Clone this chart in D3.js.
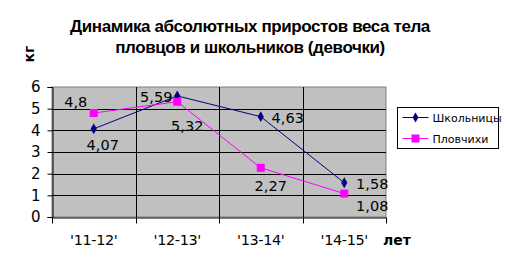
<!DOCTYPE html>
<html>
<head>
<meta charset="utf-8">
<script src="https://cdn.jsdelivr.net/npm/d3@7"></script>
<style>
  body { margin: 0; background: #fff; }
  text { font-family: "DejaVu Sans", sans-serif; fill: #000; }
  .title { font-family: "Liberation Sans", Arial, sans-serif; font-weight: bold; font-size: 17px; letter-spacing: -0.4px; }
</style>
</head>
<body>
<div id="vis"></div>
<script>
// chart values
const seasons = ["'11-12'", "'12-13'", "'13-14'", "'14-15'"];
const schoolgirls = [4.07, 5.59, 4.63, 1.58];
const swimmers = [4.8, 5.32, 2.27, 1.08];
const seriesNames = ["Школьницы", "Пловчихи"];
const yTicks = [0, 1, 2, 3, 4, 5, 6];

const WIDTH = 507, HEIGHT = 259;
const PLOT = {left: 52, right: 386, top: 87, bottom: 217};

const svg = d3.select("#vis")
  .append("svg")
    .attr("width", WIDTH)
    .attr("height", HEIGHT);

const x = d3.scaleBand().domain(seasons).range([PLOT.left, PLOT.right]);
const y = d3.scaleLinear().domain([0, 6]).range([PLOT.bottom, PLOT.top]);
const cx = (d) => x(d) + x.bandwidth() / 2;

// plot background
svg.append("rect")
  .attr("x", PLOT.left).attr("y", PLOT.top)
  .attr("width", PLOT.right - PLOT.left).attr("height", PLOT.bottom - PLOT.top)
  .attr("fill", "#c0c0c0").attr("stroke", "#808080");

// horizontal grid
svg.selectAll("hgrid").data(yTicks.slice(1, -1)).enter()
  .append("line")
    .attr("x1", PLOT.left).attr("x2", PLOT.right)
    .attr("y1", (d) => Math.round(y(d)) + 0.5).attr("y2", (d) => Math.round(y(d)) + 0.5)
    .attr("stroke", "#000");

// vertical grid at category edges
svg.selectAll("vgrid").data(seasons.slice(1)).enter()
  .append("line")
    .attr("x1", (d) => Math.round(x(d)) + 0.5).attr("x2", (d) => Math.round(x(d)) + 0.5)
    .attr("y1", PLOT.top).attr("y2", PLOT.bottom)
    .attr("stroke", "#000");

// axes
const yAxis = svg.append("g")
  .attr("transform", `translate(${PLOT.left + 0.5},0)`)
  .call(d3.axisLeft(y).tickValues(yTicks).tickFormat(d3.format("d")).tickSize(5).tickPadding(7));
yAxis.selectAll("text").style("font-size", "15px");

const xAxis = svg.append("g")
  .attr("transform", `translate(0,${PLOT.bottom + 0.5})`)
  .call(d3.axisBottom(x).tickSize(0).tickPadding(17));
xAxis.selectAll("text").style("font-size", "14.5px").attr("letter-spacing", "-0.4");
// ticks at band edges
xAxis.selectAll("edge").data(seasons.concat([null])).enter()
  .append("line")
    .attr("x1", (d) => (d === null ? PLOT.right : Math.round(x(d))) + 0.5)
    .attr("x2", (d) => (d === null ? PLOT.right : Math.round(x(d))) + 0.5)
    .attr("y1", 0).attr("y2", 6)
    .attr("stroke", "#000");
svg.selectAll(".domain").attr("stroke", "#000");

// lines
const line = d3.line().x((d, i) => cx(seasons[i])).y((d) => y(d));
svg.append("path").datum(schoolgirls)
  .attr("d", line).attr("fill", "none").attr("stroke", "#000080");
svg.append("path").datum(swimmers)
  .attr("d", line).attr("fill", "none").attr("stroke", "#ff00ff");

// markers
svg.selectAll("diamonds").data(schoolgirls).enter()
  .append("path")
    .attr("d", d3.symbol(d3.symbolDiamond, 34))
    .attr("transform", (d, i) => `translate(${cx(seasons[i])},${y(d)})`)
    .attr("fill", "#000080");
svg.selectAll("squares").data(swimmers).enter()
  .append("rect")
    .attr("x", (d, i) => cx(seasons[i]) - 4).attr("y", (d) => y(d) - 4)
    .attr("width", 8).attr("height", 8)
    .attr("fill", "#ff00ff");

// data labels: offsets relative to the point
const fmt = (v) => String(v).replace(".", ",");
const schoolOffsets = [[9, 21], [-21, 6], [27, 6], [28, 6]];
const swimOffsets = [[-18, -6], [10, 29], [10, 23], [28, 17]];
svg.selectAll("slabels").data(schoolgirls).enter()
  .append("text")
    .attr("x", (d, i) => cx(seasons[i]) + schoolOffsets[i][0])
    .attr("y", (d, i) => y(d) + schoolOffsets[i][1])
    .attr("text-anchor", "middle").style("font-size", "14.5px")
    .text(fmt);
svg.selectAll("wlabels").data(swimmers).enter()
  .append("text")
    .attr("x", (d, i) => cx(seasons[i]) + swimOffsets[i][0])
    .attr("y", (d, i) => y(d) + swimOffsets[i][1])
    .attr("text-anchor", "middle").style("font-size", "14.5px")
    .text(fmt);

// title and axis names
svg.append("text").attr("class", "title")
  .attr("x", 250).attr("y", 32).attr("text-anchor", "middle")
  .text("Динамика абсолютных приростов веса тела");
svg.append("text").attr("class", "title")
  .attr("x", 250).attr("y", 53).attr("text-anchor", "middle")
  .text("пловцов и школьников (девочки)");
svg.append("text")
  .attr("transform", "translate(34,54) rotate(-90)")
  .attr("text-anchor", "middle")
  .style("font-size", "14px").style("font-weight", "bold")
  .text("кг");
svg.append("text")
  .attr("x", 383).attr("y", 245)
  .style("font-size", "14px").style("font-weight", "bold")
  .text("лет");

// legend
const legend = svg.append("g").attr("transform", "translate(397.5,107.5)");
legend.append("rect")
  .attr("width", 101).attr("height", 41)
  .attr("fill", "#fff").attr("stroke", "#000");
const rows = legend.selectAll("row").data(seriesNames).enter()
  .append("g").attr("transform", (d, i) => `translate(0,${10 + i * 21})`);
rows.append("line")
  .attr("x1", 5).attr("x2", 31)
  .attr("stroke", (d, i) => i === 0 ? "#000080" : "#ff00ff");
rows.filter((d, i) => i === 0).append("path")
  .attr("d", d3.symbol(d3.symbolDiamond, 30))
  .attr("transform", "translate(18,0)").attr("fill", "#000080");
rows.filter((d, i) => i === 1).append("rect")
  .attr("x", 14).attr("y", -4).attr("width", 8).attr("height", 8)
  .attr("fill", "#ff00ff");
rows.append("text")
  .attr("x", 35).attr("y", 4)
  .style("font-size", "11px")
  .text((d) => d);
</script>
</body>
</html>
